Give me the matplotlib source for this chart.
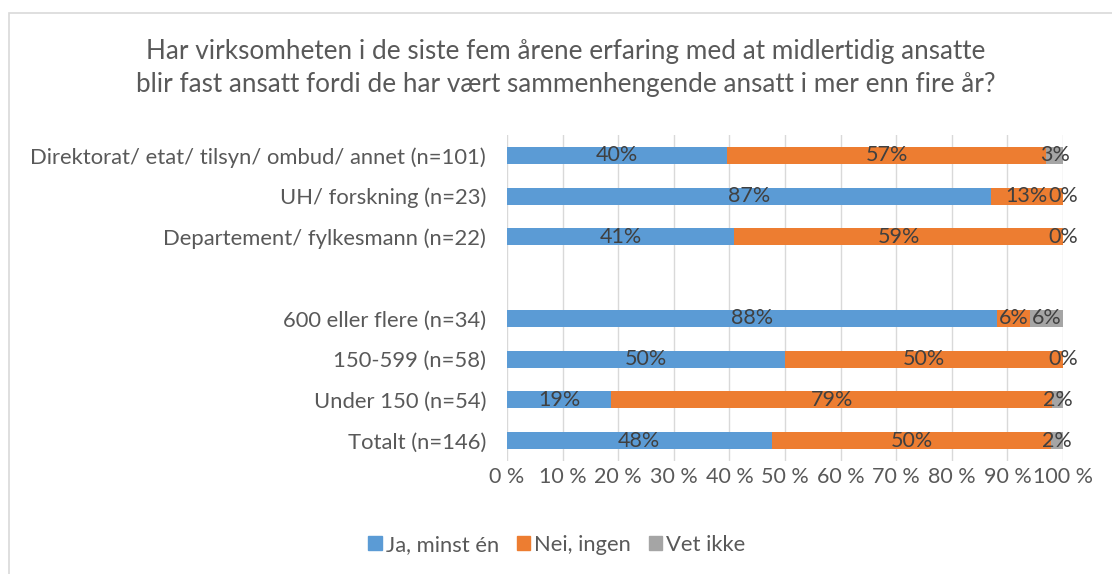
import matplotlib
matplotlib.use("Agg")
import matplotlib.pyplot as plt
from matplotlib.patches import Rectangle, Patch
import numpy as np

# Data (top to bottom); empty string is the spacer row
categories = [
    "Direktorat/ etat/ tilsyn/ ombud/ annet (n=101)",
    "UH/ forskning (n=23)",
    "Departement/ fylkesmann (n=22)",
    "",
    "600 eller flere (n=34)",
    "150-599 (n=58)",
    "Under 150 (n=54)",
    "Totalt (n=146)",
]
ja = [39.6, 87.0, 40.9, None, 88.2, 50.0, 18.7, 47.6]
nei = [57.4, 13.0, 59.1, None, 5.9, 50.0, 79.4, 50.3]
vet = [3.0, 0.0, 0.0, None, 5.9, 0.0, 1.9, 2.1]
series_names = ["Ja, minst én", "Nei, ingen", "Vet ikke"]
colors = ["#5B9BD5", "#ED7D31", "#A5A5A5"]
title = ("Har virksomheten i de siste fem årene erfaring med at midlertidig ansatte\n"
         "blir fast ansatt fordi de har vært sammenhengende ansatt i mer enn fire år?")

plt.rcParams["font.family"] = ["Lato", "DejaVu Sans"]
text_color = "#595959"

fig = plt.figure(figsize=(11.12, 5.74), dpi=100)
ax = fig.add_axes([507 / 1112, 1 - 461 / 574, 556 / 1112, 326 / 574])

# chart border
fig.patches.append(Rectangle((9 / 1112, -0.1), 1.2, 1.1 - 13 / 574,
                             transform=fig.transFigure, fill=False,
                             edgecolor="#D9D9D9", linewidth=1.2))

y = np.arange(len(categories))
for i in range(len(categories)):
    if ja[i] is None:
        continue
    left = 0
    for val, col in zip([ja[i], nei[i], vet[i]], colors):
        ax.barh(y[i], val, left=left, height=0.42, color=col, zorder=2)
        ax.text(left + val / 2, y[i], f"{round(val)}%", ha="center", va="center",
                fontsize=15.5, color="#404040", zorder=3)
        left += val

ax.set_xlim(0, 100)
ax.set_ylim(len(categories) - 0.5, -0.5)
ax.set_yticks(y)
ax.set_yticklabels(categories, fontsize=15.8, color=text_color)
ax.set_xticks(np.arange(0, 101, 10))
ax.set_xticklabels([f"{v} %" for v in range(0, 101, 10)], fontsize=15.5, color=text_color)
ax.tick_params(axis="y", length=0, pad=15)
ax.tick_params(axis="x", length=0, pad=4)
ax.grid(axis="x", color="#D9D9D9", linewidth=1, zorder=0)
for s in ax.spines.values():
    s.set_visible(False)

fig.text(566 / 1112, 1 - 68 / 574, title, ha="center", va="center",
         fontsize=18.8, color=text_color, linespacing=1.4)

handles = [Patch(color=c) for c in colors]
fig.legend(handles, series_names, loc="center", bbox_to_anchor=(557 / 1112, 1 - 545 / 574),
           ncol=3, frameon=False, fontsize=15.8, handlelength=0.6, handleheight=0.6,
           handletextpad=0.2, columnspacing=0.8, labelcolor=text_color)

fig.savefig("out.png", dpi=100)
